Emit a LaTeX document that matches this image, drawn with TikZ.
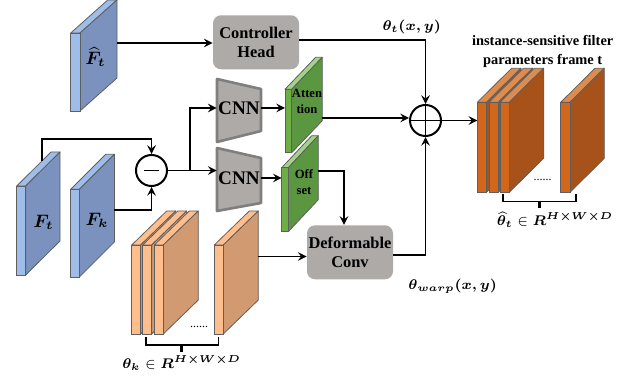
\documentclass[tikz,border=0pt]{standalone}
\usepackage{amsmath,bm}
\usepackage{fontspec}
\setmainfont{Liberation Serif}

\definecolor{blueFront}{HTML}{9FBDEA}
\definecolor{blueSide}{HTML}{7A92BD}
\definecolor{greenFront}{HTML}{6DAE45}
\definecolor{greenSide}{HTML}{5B9640}
\definecolor{greenTop}{HTML}{A3D28A}
\definecolor{orangeFront}{HTML}{D2661A}
\definecolor{orangeSide}{HTML}{A6521A}
\definecolor{orangeTop}{HTML}{DD8C4E}
\definecolor{beigeFront}{HTML}{FFBE8C}
\definecolor{beigeSide}{HTML}{D19A70}
\definecolor{boxgray}{HTML}{ADAAA8}
\definecolor{cnnedge}{HTML}{7F7F7F}
\definecolor{slabedge}{HTML}{5F5F5F}

% x, y, width, height, depth x, depth y, front, side, top
\newcommand{\slab}[9]{%
  \filldraw[fill=#9, draw=slabedge, line width=0.4pt, line join=round] (#1,#2) -- ++(#5,-#6) -- ++(#3,0) -- ++(-#5,#6) -- cycle;
  \filldraw[fill=#8, draw=slabedge, line width=0.4pt, line join=round] (#1+#3,#2) -- ++(#5,-#6) -- ++(0,#4) -- ++(-#5,#6) -- cycle;
  \filldraw[fill=#7, draw=slabedge, line width=0.4pt] (#1,#2) rectangle ++(#3,#4);
}

\begin{document}
\begin{tikzpicture}[x=0.5pt, y=-0.5pt,
  box/.style={fill=boxgray, rounded corners=4pt, minimum width=43pt, minimum height=27pt, align=center, inner sep=0pt, font=\fontsize{8.2}{9.6}\selectfont\bfseries},
  cnnlabel/.style={minimum width=22pt, inner sep=0pt, font=\fontsize{9.6}{10}\selectfont\bfseries},
  opcircle/.style={draw, circle, line width=1pt, minimum size=15.5pt, inner sep=0pt},
  slabtext/.style={font=\fontsize{6.3}{8}\selectfont\bfseries, align=center, inner sep=0pt},
  mathlabel/.style={font=\fontsize{7.2}{9}\selectfont, inner sep=0pt},
  link/.style={line width=0.9pt},
  >=stealth
]
\useasboundingbox (0,0) rectangle (627,379);

% input features
\slab{70.7}{33}{9.3}{78}{37}{33}{blueFront}{blueSide}{blueFront}
\slab{16.7}{186}{9}{89}{34.3}{34}{blueFront}{blueSide}{blueFront}
\slab{70.7}{189.3}{8.7}{87.7}{35}{35}{blueFront}{blueSide}{blueFront}
\node[font=\fontsize{9}{10}\selectfont] (txt-fhat) at (95.5,57) {$\boldsymbol{\widehat{F}_t}$};
\node[font=\fontsize{9}{10}\selectfont] (txt-ft) at (43.5,222) {$\boldsymbol{F_t}$};
\node[font=\fontsize{9}{10}\selectfont] (txt-fk) at (97,220) {$\boldsymbol{F_k}$};

% attention / offset maps
\slab{285}{89.3}{6.7}{63.4}{30.6}{32}{greenFront}{greenSide}{greenTop}
\slab{281.7}{167.7}{6.6}{64}{30}{32}{greenFront}{greenSide}{greenTop}
\node[slabtext] (txt-att) at (307,101) {Atten\\tion};
\node[slabtext] (txt-off) at (304,182) {Off\\set};

% filter parameters frame k
\foreach \xx in {131.7,142.7,154.3,214.3}
  \slab{\xx}{245}{9}{89}{35}{34}{beigeFront}{beigeSide}{beigeFront};
\node[font=\fontsize{6}{7}\selectfont] (dots1) at (199,327) {......};

% filter parameters frame t
\foreach \xx in {477.3,489,500,560.7}
  \slab{\xx}{102.3}{9.3}{90}{34.3}{34}{orangeFront}{orangeSide}{orangeTop};
\node[font=\fontsize{6}{7}\selectfont] (dots2) at (542.7,180) {......};
\node[align=center, font=\fontsize{7.2}{9.5}\selectfont\bfseries] (title) at (542.7,51) {instance-sensitive filter\\parameters frame t};

% CNN blocks
\filldraw[fill=boxgray, draw=cnnedge, line width=1.3pt, line join=round] (217,79) -- (261,89) -- (261,131) -- (217,142) -- cycle;
\filldraw[fill=boxgray, draw=cnnedge, line width=1.3pt, line join=round] (217,148) -- (261,158) -- (261,203) -- (217,211) -- cycle;
\node[cnnlabel] (cnn1) at (239,108) {CNN};
\node[cnnlabel] (cnn2) at (239,178) {CNN};

% boxes and operators
\node[box] (ctrl) at (256,42.3) {Controller\\Head};
\node[box] (deform) at (350,252.3) {Deformable\\Conv};
\node[opcircle] (minus) at (151.5,170.5) {};
\node[opcircle] (plus) at (425.5,120.5) {};
\draw[link] ([xshift=-3.6pt]minus.center) -- ([xshift=3.6pt]minus.center);
\draw[link] (plus.north) -- (plus.south);
\draw[link] (plus.west) -- (plus.east);

% anchors on the slabs
\coordinate (fhat-e) at (117,43);
\coordinate (ft-top) at (41.7,161);
\coordinate (fk-e) at (114.4,210);
\coordinate (att-w) at (285,108);
\coordinate (att-e) at (321.7,118);
\coordinate (off-w) at (281.7,178);
\coordinate (off-e) at (318.3,170.7);
\coordinate (bg-e) at (258.3,256.5);
\coordinate (or-w) at (477.3,120.5);
\coordinate (split) at (190,170.5);

% connectors
\draw[link,->] (fhat-e) -- (fhat-e -| ctrl.west);
\draw[link,->] (ft-top) -- (ft-top |- 0,139.3) -| (minus.north);
\draw[link,->] (fk-e) -| (minus.south);
\draw[link,->] (minus.east) -- (minus.east -| cnn2.west);
\draw[link,->] (split) |- (cnn1.west);
\draw[link,->] (cnn1.east) -- (att-w);
\draw[link,->] (cnn2.east) -- (off-w);
\draw[link,->] (att-e) -- (att-e -| plus.west);
\draw[link,->] (ctrl.east |- 0,40) -| (plus.north);
\draw[link,->] (off-e) -| ([xshift=-3pt]deform.north);
\draw[link,->] (bg-e) -- (bg-e -| deform.west);
\draw[link,->] (deform.east |- 0,255) -| (plus.south);
\draw[link,->] (plus.east) -- (or-w);

% labels
\node[mathlabel] (lbl-thetat) at (411.7,27) {$\boldsymbol{\theta_t(x,y)}$};
\node[mathlabel] (lbl-warp) at (452.7,286.7) {$\boldsymbol{\theta_{warp}(x,y)}$};

% braces
\draw[line width=0.8pt] (145.7,337) -- (145.7,345) -- (218.3,345) -- (218.3,337);
\draw[line width=1.4pt] (181.7,345) -- (181.7,351.7);
\node[mathlabel] (lbl-thetak) at (181.7,363) {$\boldsymbol{\theta_k}\in\boldsymbol{R^{H\times W\times D}}$};
\draw[line width=0.8pt] (502.7,194) -- (502.7,201.7) -- (576,201.7) -- (576,194);
\draw[line width=1.4pt] (539.3,201.7) -- (539.3,208.3);
\node[mathlabel] (lbl-thetahat) at (555,220) {$\boldsymbol{\widehat{\theta}_t}\in\boldsymbol{R^{H\times W\times D}}$};
\end{tikzpicture}
\end{document}
